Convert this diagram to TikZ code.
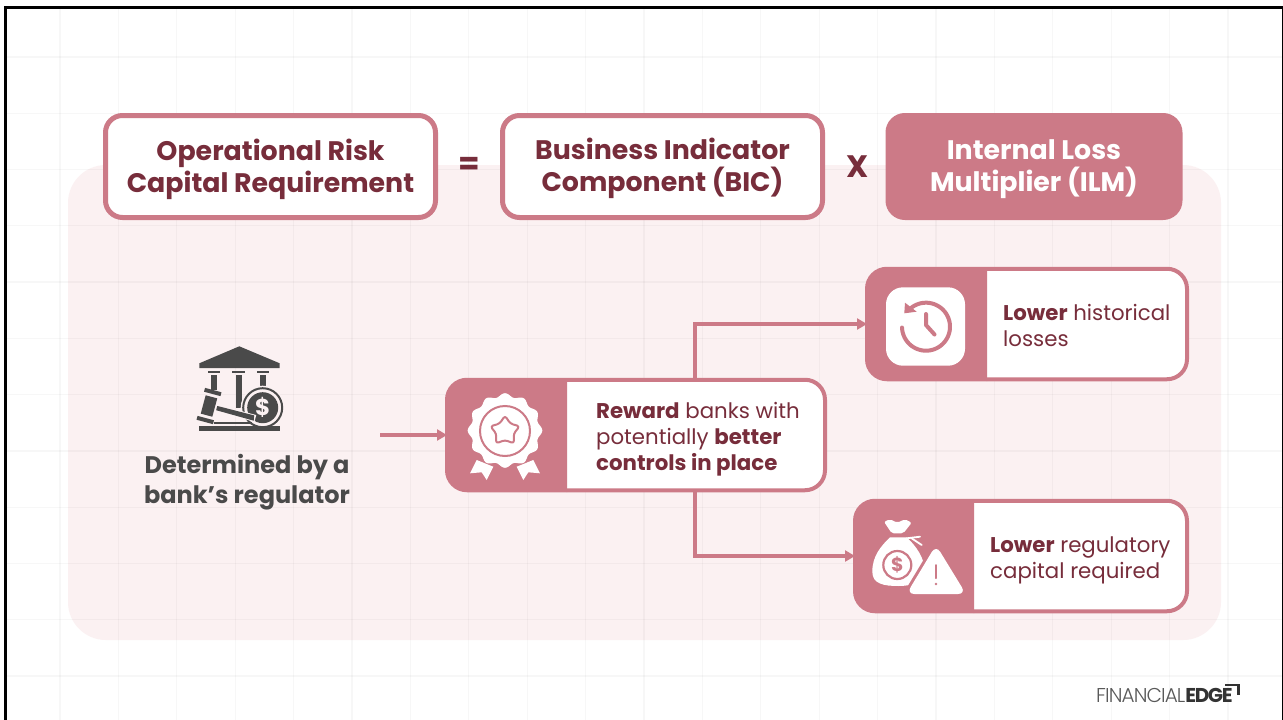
\documentclass[tikz,border=0pt]{standalone}
\usepackage{fontspec}
\setmainfont{Poppins}
\newfontfamily\logolight{Poppins Light}
\usepackage{tikz}
\usetikzlibrary{arrows.meta}
\usetikzlibrary{calc}

\definecolor{rose}{HTML}{CC7A87}
\definecolor{wine}{HTML}{772D3B}
\definecolor{blush}{HTML}{FBF1F2}
\definecolor{slate}{HTML}{4A4A4A}

\tikzset{
	topbox/.style={draw=rose,line width=5pt,fill=white,rounded corners=17pt,outer sep=0pt,inner sep=0pt,
		minimum width=#1,minimum height=102pt},
	card/.style={draw=rose,line width=4pt,fill=white,rounded corners=20pt,outer sep=0pt,inner sep=0pt,
		minimum width=#1,minimum height=110.5pt},
	toptext/.style={align=center,font=\fontsize{26.8}{32}\selectfont\bfseries,text=wine},
	cardtext/.style={anchor=west,align=left,inner sep=0pt,font=\fontsize{21.3}{26}\selectfont,text=wine},
	flow/.style={draw=rose,line width=3.5pt,-{Triangle[length=10pt,width=11pt]}},
}

\begin{document}
\begin{tikzpicture}[x=1pt,y=-1pt]
	\useasboundingbox (0,0) rectangle (1283,720);
	\fill[white] (0,0) rectangle (1283,720);
	
	\fill[blush] (68,165) [rounded corners=38pt] rectangle (1221,640);
	
	% grid
	\foreach \i in {0,...,20}
		\draw[black,opacity=0.03,line width=1.3pt] ({60+58.4*\i},8) -- ({60+58.4*\i},720);
	\foreach \j in {0,...,11}
		\draw[black,opacity=0.03,line width=1.3pt] (6,{57+56.27*\j}) -- (1282,{57+56.27*\j});
	
	\draw[black,line width=3pt] (5.3,720) -- (5.3,7.5) -- (1283,7.5);
	\draw[black,line width=1pt] (1282.3,7.5) -- (1282.3,720);
	
	% equation
	\node[topbox=330pt] (oprisk) at (270.5,166.5) {};
	\node[toptext] (opriskt) at (270.5,169.5) {Operational Risk\\Capital Requirement};
	\node[topbox=320pt] (bic) at (662.5,166.5) {};
	\node[toptext] (bict) at (662.5,168.5) {Business Indicator\\Component (BIC)};
	\node[topbox=292pt,draw=rose,fill=rose] (ilm) at (1034,166.5) {};
	\node[toptext,text=white] (ilmt) at (1034,169) {Internal Loss\\Multiplier (ILM)};
	\node[font=\fontsize{31}{31}\selectfont\bfseries,text=wine] (eq) at (469,166) {=};
	\node[font=\fontsize{31}{31}\selectfont\bfseries,text=wine] (times) at (857.5,166.5) {X};
	
	% cards
	\node[card=378pt] (reward) at (636,435) {};
	\fill[rose] (567,378) [rounded corners=20pt] -- (reward.north west) -- (reward.south west) [sharp corners] -- (567,492) -- cycle;
	\node[card=320pt] (history) at (1027,324) {};
	\fill[rose] (987,267) [rounded corners=20pt] -- (history.north west) -- (history.south west) [sharp corners] -- (987,381) -- cycle;
	\node[card=332pt] (capital) at (1021,556) {};
	\fill[rose] (974,499) [rounded corners=20pt] -- (capital.north west) -- (capital.south west) [sharp corners] -- (974,613) -- cycle;
	
	\node[cardtext] (rewardt) at (596,439) {\textbf{Reward} banks with\\potentially \textbf{better}\\\textbf{controls in place}};
	\node[cardtext] (historyt) at (1003,325) {\textbf{Lower} historical\\losses};
	\node[cardtext] (capitalt) at (990,560.5) {\textbf{Lower} regulatory\\capital required};
	
	\node[align=center,font=\fontsize{24}{30}\selectfont\bfseries,text=slate] (regulator) at (247,482.5) {Determined by a\\bank’s regulator};
	
	% connectors
	\coordinate (start) at (380,435);
	\draw[flow] (start) -- (reward.west);
	\draw[flow] ($(reward.north)+(59,0)$) |- (history.west);
	\draw[flow] ($(reward.south)+(59,0)$) |- (capital.west);
	
	% bank icon
	\fill[slate] (239.3,346.3) -- (199.3,363.3) -- (199.3,368) -- (279.7,368) -- (279.7,363.3) -- cycle;
	\fill[slate] (207.7,370.7) rectangle (220,373.3);
	\fill[slate] (232.3,370.7) rectangle (244.7,373.3);
	\fill[slate] (257.3,370.7) rectangle (269.3,373.3);
	\fill[slate] (210.7,375) rectangle (216.7,390);
	\fill[slate] (235.7,375) rectangle (241.7,408);
	\fill[slate] (260,375) rectangle (266,386);
	\fill[blush] (262.7,407.7) circle (22pt);
	\draw[slate,line width=2pt] (262.7,407.7) circle (19.5pt);
	\fill[slate] (262.7,407.7) circle (15.5pt);
	\node[font=\fontsize{23}{23}\selectfont\bfseries,text=blush,inner sep=0pt] (coin) at (262.7,407.7) {\$};
	\fill[slate] (199.3,426) rectangle (279.5,430.7);
	\fill[slate] (214,421.5) rectangle (252,424);
	\begin{scope}[shift={(209,406)},rotate=-15]
		\fill[slate] (-6,-9.5) rectangle (6,9.5);
		\fill[slate] (-8.5,-16.5) rectangle (8.5,-12.5);
		\fill[slate] (-8.5,12.5) rectangle (8.5,16.5);
		\fill[blush] (7,-3.5) -- (48,-3.5) -- (48,3.5) -- (7,3.5) -- cycle;
		\fill[slate] (8,-2.2) -- (46,-2.6) -- (47,2.6) -- (8,2.2) -- cycle;
	\end{scope}
	
	% badge icon
	\fill[white] plot[domain=0:360,samples=145,smooth] ({505+(35.5+1.8*cos(12*\x))*cos(\x)},{430.5+(35.5+1.8*cos(12*\x))*sin(\x)}) -- cycle;
	\fill[white] (476.7,460) -- (470,473.3) -- (481.7,472.3) -- (486.7,480) -- (493.3,466.7) -- cycle;
	\fill[white] (533.3,460) -- (540,473.3) -- (528.3,472.3) -- (523.3,480) -- (516.7,466.7) -- cycle;
	\draw[rose,line width=2pt] (505,431) circle (25pt);
	\draw[rose,line width=2pt,line join=round,rounded corners=3pt]
		(505,415.5) -- (510.3,423.7) -- (519.7,426.2) -- (513.6,433.8) -- (514.1,443.5) -- (505,440)
		-- (495.9,443.5) -- (496.4,433.8) -- (490.3,426.2) -- (499.7,423.7) -- cycle;
	
	% clock icon
	\fill[white,rounded corners=17pt] (886,287.3) rectangle (965,365.7);
	\draw[rose,line width=4pt,line cap=round] plot[domain=-128:178,samples=60] ({926+24*cos(\x)},{326.7+24*sin(\x)});
	\fill[rose] (905,302.7) -- (904.3,313.3) -- (916.7,311.7) -- cycle;
	\draw[rose,line width=4pt,line cap=round,line join=round] (926,314) -- (926,325) -- (934.5,334.5);
	
	% money bag icon
	\fill[white,rounded corners=2pt] (884,521.7) -- (890,519.3) -- (897.3,522.7) -- (905,519.3) -- (911.7,522.7) -- (903.3,533.3) -- (891.7,533.3) -- cycle;
	\fill[white] (890,537.3) -- (906.7,537.3) .. controls (916,546) and (925,558) .. (925,573)
		.. controls (925,582) and (912,586) .. (898.3,586)
		.. controls (884,586) and (872.3,584) .. (872.3,571.7)
		.. controls (872.3,556) and (881,546) .. (890,537.3) -- cycle;
	\draw[white,line width=1.8pt,line cap=round] (906.7,538.3) -- (920,536.7);
	\draw[white,line width=1.8pt,line cap=round] (911.7,538.3) -- (921.7,545);
	\draw[rose,line width=2.2pt] (897.3,565) circle (14pt);
	\node[font=\fontsize{19}{19}\selectfont\bfseries,text=rose,inner sep=0pt] (bagsign) at (897.3,565) {\$};
	\draw[rose,line width=6pt,rounded corners=8pt] (936,545) -- (906.5,594) -- (966,594) -- cycle;
	\fill[white,rounded corners=8pt] (936,545) -- (906.5,594) -- (966,594) -- cycle;
	\draw[rose,line width=1.6pt,line cap=round] (936,565) -- (936,578.3);
	\fill[rose] (936,584) circle (1.4pt);
	
	% logo
	\node[anchor=base west,inner sep=0pt,text=black!65,font=\fontsize{20}{20}\selectfont] (logo) at (1096,702)
		{\logolight\addfontfeature{LetterSpace=-4.5}FINANCIAL\normalfont\bfseries\color{black!80}\addfontfeature{LetterSpace=-7}EDGE};
	\coordinate (logoa) at (1225,685);
	\coordinate (logob) at (1238.3,685);
	\coordinate (logoc) at (1238.3,695);
	\draw[black!80,line width=2.4pt] (logoa) -- (logob) -- (logoc);
\end{tikzpicture}
\end{document}
